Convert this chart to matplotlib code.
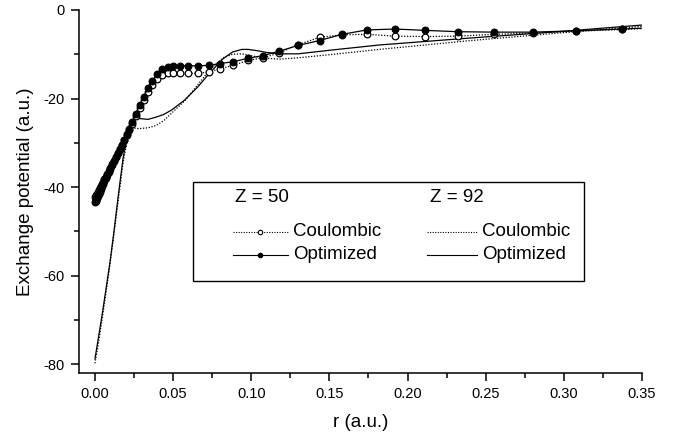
import matplotlib
matplotlib.use('Agg')
import matplotlib.pyplot as plt
from matplotlib.ticker import MultipleLocator
from matplotlib.patches import Rectangle
from matplotlib.lines import Line2D

plt.rcParams['font.family'] = ['Liberation Sans', 'DejaVu Sans']
plt.rcParams['axes.unicode_minus'] = False

# Z = 50 radial grid (markers drawn at every grid point)
r50 = [0.0000, 0.0004, 0.0008, 0.0013, 0.0018, 0.0024, 0.0030, 0.0037, 0.0044, 0.0052,
       0.0060, 0.0069, 0.0078, 0.0088, 0.0098, 0.0109, 0.0120, 0.0132, 0.0145, 0.0158,
       0.0172, 0.0187, 0.0203, 0.0220, 0.0240, 0.0262, 0.0286, 0.0312, 0.0340, 0.0368,
       0.0398, 0.0430, 0.0465, 0.0502, 0.0545, 0.0598, 0.0660, 0.0730, 0.0798, 0.0883,
       0.0979, 0.1075, 0.1180, 0.1300, 0.1437, 0.1580, 0.1740, 0.1920, 0.2110, 0.2320,
       0.2550, 0.2800, 0.3080, 0.3370, 0.3500]
opt50 = [-43.3, -43.1, -42.8, -42.4, -42.0, -41.5, -41.0, -40.4, -39.8, -39.2,
         -38.6, -38.0, -37.3, -36.6, -35.9, -35.0, -34.2, -33.3, -32.4, -31.4,
         -30.4, -29.3, -28.1, -26.8, -25.2, -23.4, -21.5, -19.6, -17.7, -16.0,
         -14.5, -13.4, -12.8, -12.6, -12.6, -12.6, -12.6, -12.5, -12.1, -11.7,
         -10.9, -10.3, -9.3, -8.0, -6.9, -5.5, -4.5, -4.3, -4.6, -4.9,
         -5.0, -5.0, -4.7, -4.3, -4.1]
coul50 = [-42.2, -42.0, -41.8, -41.5, -41.1, -40.7, -40.3, -39.8, -39.3, -38.8,
          -38.2, -37.6, -37.0, -36.3, -35.6, -34.8, -34.0, -33.2, -32.3, -31.4,
          -30.4, -29.4, -28.3, -27.1, -25.7, -24.0, -22.2, -20.4, -18.6, -16.9,
          -15.5, -14.6, -14.3, -14.3, -14.3, -14.3, -14.3, -14.0, -13.3, -12.5,
          -11.4, -10.8, -9.7, -7.8, -6.2, -5.6, -5.5, -5.9, -6.0, -5.9,
          -5.5, -5.2, -4.8, -4.4, -4.2]

# Z = 92 curves (lines only)
r92 = [0.000, 0.002, 0.0043, 0.007, 0.0096, 0.012, 0.0149, 0.018, 0.021, 0.0235,
       0.028, 0.034, 0.039, 0.044, 0.049, 0.0575, 0.066, 0.074, 0.082, 0.088,
       0.094, 0.098, 0.104, 0.110, 0.118, 0.130, 0.150, 0.182, 0.2375, 0.300, 0.350]
opt92 = [-78.8, -74.5, -69.5, -63.2, -57.0, -50.5, -42.0, -33.5, -27.6, -24.8,
         -24.5, -24.7, -24.2, -23.6, -22.6, -20.3, -17.3, -14.0, -11.0, -9.5,
         -8.9, -8.9, -9.2, -9.6, -9.9, -9.9, -9.1, -7.9, -6.4, -4.8, -3.4]
coul92 = [-79.8, -75.8, -70.5, -64.0, -57.6, -51.0, -43.0, -34.5, -28.8, -26.6,
          -26.8, -26.6, -26.1, -25.0, -23.3, -20.5, -16.8, -13.3, -10.8, -10.0,
          -9.9, -10.2, -10.6, -10.9, -11.1, -10.8, -10.1, -8.9, -7.0, -5.1, -3.7]

yticks = [0, -20, -40, -60, -80]
xticks = [0.00, 0.05, 0.10, 0.15, 0.20, 0.25, 0.30, 0.35]

DOT = (0, (1, 1.3))
MS = 4.8
LW = 0.9

fig = plt.figure(figsize=(6.74, 4.36), dpi=100)
ax = fig.add_axes([0.1172, 0.1452, 0.9525 - 0.1172, 0.9771 - 0.1452])

# Z = 92
ax.plot(r92, coul92, color='black', lw=LW, ls=DOT)
ax.plot(r92, opt92, color='black', lw=LW, ls='-')
# Z = 50
mark = slice(0, len(r50) - 1)
ax.plot(r50, coul50, color='black', lw=LW, ls=DOT, marker='o', ms=MS,
        mfc='white', mec='black', mew=0.9, markevery=mark)
ax.plot(r50, opt50, color='black', lw=LW, ls='-', marker='o', ms=MS,
        mfc='black', mec='black', mew=0.9, markevery=mark)

ax.set_xlim(-0.0102, 0.35)
ax.set_ylim(-81.9, 0)
ax.set_xticks(xticks)
ax.set_xticklabels([f'{t:.2f}' for t in xticks])
ax.set_yticks(yticks)
ax.set_yticklabels([str(t) for t in yticks])
ax.xaxis.set_minor_locator(MultipleLocator(0.025))
ax.yaxis.set_minor_locator(MultipleLocator(10))
ax.tick_params(which='major', direction='out', length=6, width=1.1, labelsize=10.5, pad=4)
ax.tick_params(which='minor', direction='out', length=3.5, width=1.1)
for s in ['top', 'right']:
    ax.spines[s].set_visible(False)
for s in ['left', 'bottom']:
    ax.spines[s].set_linewidth(1.1)

ax.set_xlabel('r (a.u.)', fontsize=13.5, labelpad=10)
ax.set_ylabel('Exchange potential (a.u.)', fontsize=13.5, labelpad=7)

# hand-made legend box
ax.add_patch(Rectangle((0.2025, 0.2528), 0.897 - 0.2025, 0.5258 - 0.2528,
                       transform=ax.transAxes, facecolor='white', edgecolor='black',
                       lw=1.0, zorder=5))
tfs = 13.5
y_head, y_coul, y_opt = 0.4817, 0.388, 0.3245
ax.text(0.277, y_head, 'Z = 50', transform=ax.transAxes, fontsize=tfs, va='center', zorder=6)
ax.text(0.6234, y_head, 'Z = 92', transform=ax.transAxes, fontsize=tfs, va='center', zorder=6)

def handle(x0, x1, y, ls, mfc):
    ax.add_line(Line2D([x0, x1], [y, y], transform=ax.transAxes, color='black',
                       lw=0.8, ls=ls, zorder=6))
    if mfc is not None:
        ax.add_line(Line2D([(x0 + x1) / 2], [y], transform=ax.transAxes, marker='o',
                           ms=3.2, mfc=mfc, mec='black', mew=0.8, ls='none', zorder=7))

handle(0.2735, 0.371, y_coul, DOT, 'white')
handle(0.2735, 0.371, y_opt, '-', 'black')
handle(0.618, 0.707, y_coul, DOT, None)
handle(0.618, 0.707, y_opt, '-', None)
for x, labs in [(0.380, ('Coulombic', 'Optimized')), (0.716, ('Coulombic', 'Optimized'))]:
    ax.text(x, y_coul, labs[0], transform=ax.transAxes, fontsize=tfs, va='center', zorder=6)
    ax.text(x, y_opt, labs[1], transform=ax.transAxes, fontsize=tfs, va='center', zorder=6)

fig.savefig('out.png', dpi=100)
